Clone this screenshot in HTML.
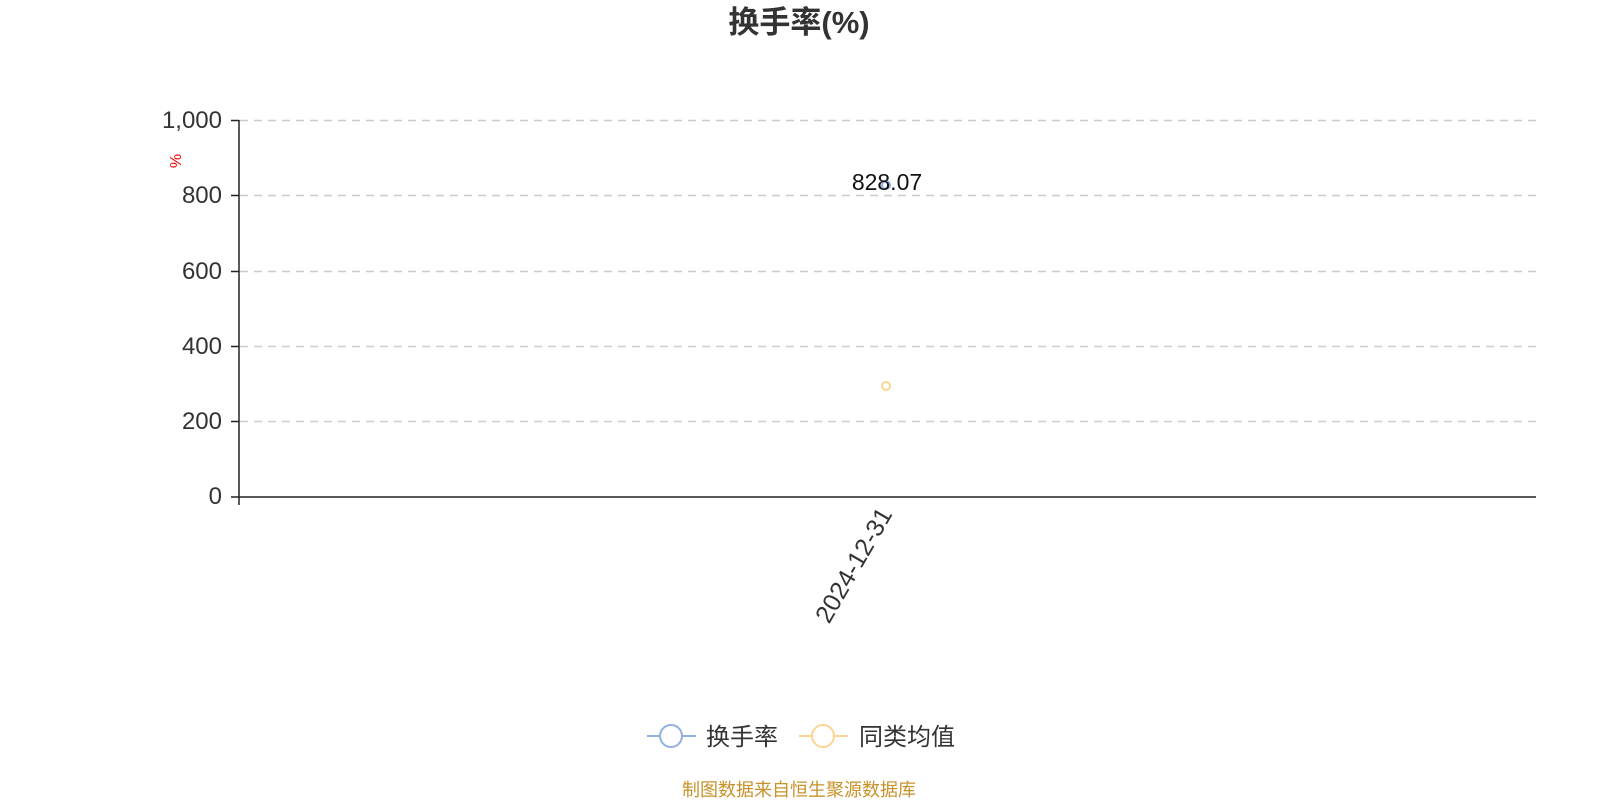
<!DOCTYPE html>
<html><head><meta charset="utf-8"><style>
body{margin:0;background:#fff}
svg{display:block;font-family:"Liberation Sans","Noto Sans CJK SC",sans-serif}
</style></head><body>
<svg width="1600" height="800" viewBox="0 0 1600 800">
<text x="799" y="33" text-anchor="middle" font-size="31" font-weight="bold" fill="#333">换手率(%)</text>
<g stroke="#ccc" stroke-dasharray="8,6" stroke-width="1.5">
<line x1="240" y1="120.5" x2="1536" y2="120.5"/>
<line x1="240" y1="195.5" x2="1536" y2="195.5"/>
<line x1="240" y1="271.5" x2="1536" y2="271.5"/>
<line x1="240" y1="346.5" x2="1536" y2="346.5"/>
<line x1="240" y1="421.5" x2="1536" y2="421.5"/>
</g>
<g stroke="#222" stroke-width="1.5">
<line x1="239" y1="120" x2="239" y2="497"/>
<line x1="239" y1="497" x2="1536" y2="497"/>
<line x1="239" y1="497" x2="239" y2="505"/>
<line x1="231" y1="120.5" x2="239" y2="120.5"/>
<line x1="231" y1="195.5" x2="239" y2="195.5"/>
<line x1="231" y1="271.5" x2="239" y2="271.5"/>
<line x1="231" y1="346.5" x2="239" y2="346.5"/>
<line x1="231" y1="421.5" x2="239" y2="421.5"/>
<line x1="231" y1="497" x2="239" y2="497"/>
</g>
<g font-size="24" fill="#333" text-anchor="end">
<text x="222" y="128">1,000</text>
<text x="222" y="203">800</text>
<text x="222" y="279">600</text>
<text x="222" y="354">400</text>
<text x="222" y="429">200</text>
<text x="222" y="504">0</text>
</g>
<text transform="translate(181,161) rotate(-90)" text-anchor="middle" font-size="16" fill="#e00">%</text>
<text transform="translate(893,514) rotate(-60)" text-anchor="end" font-size="25" fill="#333">2024-12-31</text>
<circle cx="886" cy="185" r="4" fill="#fff" stroke="#8fb0e0" stroke-width="2"/>
<circle cx="886" cy="386" r="4" fill="#fff" stroke="#fcd594" stroke-width="2"/>
<text x="887" y="190" text-anchor="middle" font-size="23" fill="#111">828.07</text>
<g stroke-width="2" fill="#fff">
<line x1="647" y1="736" x2="696" y2="736" stroke="#8fb0e0"/>
<circle cx="671" cy="736" r="11" stroke="#8fb0e0"/>
<line x1="799" y1="736" x2="848" y2="736" stroke="#fcd594"/>
<circle cx="823" cy="736" r="11" stroke="#fcd594"/>
</g>
<text x="706" y="745" font-size="24" fill="#333">换手率</text>
<text x="859" y="745" font-size="24" fill="#333">同类均值</text>
<text x="799" y="796" text-anchor="middle" font-size="18" fill="#c8922a">制图数据来自恒生聚源数据库</text>
</svg>
</body></html>
